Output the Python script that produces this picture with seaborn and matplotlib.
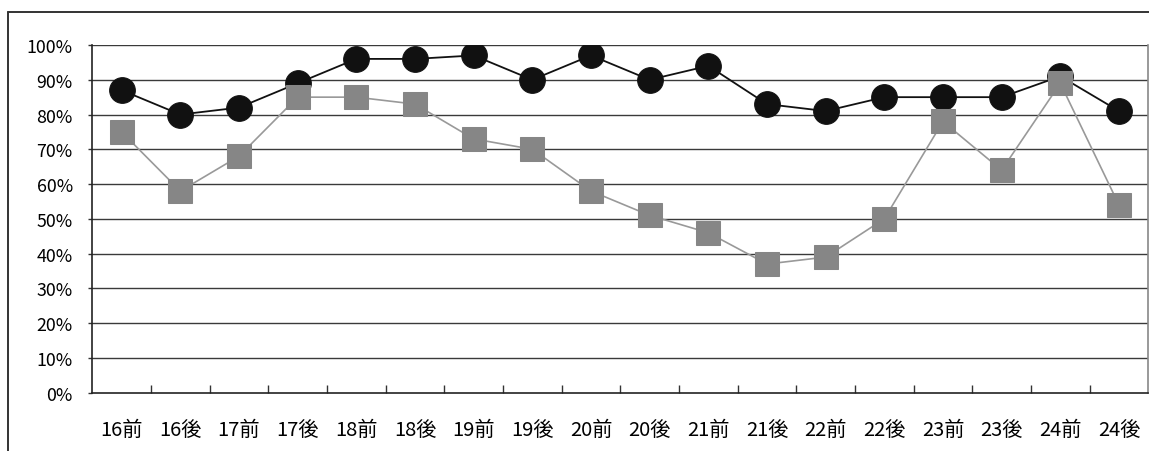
import matplotlib
matplotlib.use("Agg")
import matplotlib.pyplot as plt
from matplotlib.lines import Line2D
from matplotlib.ticker import FixedLocator, FuncFormatter
import seaborn as sns
import pandas as pd
import numpy as np

# Periods (year + first/second half)
periods = ["16前", "16後", "17前", "17後", "18前", "18後", "19前", "19後", "20前",
           "20後", "21前", "21後", "22前", "22後", "23前", "23後", "24前", "24後"]
# Rates in percent
series_black = [87, 80, 82, 89, 96, 96, 97, 90, 97, 90, 94, 83, 81, 85, 85, 85, 91, 81]
series_gray = [75, 58, 68, 85, 85, 83, 73, 70, 58, 51, 46, 37, 39, 50, 78, 64, 89, 54]
y_ticks = list(range(0, 101, 10))

df = pd.DataFrame({"period": periods, "black": series_black, "gray": series_gray})

sns.set_theme(style="white")
plt.rcParams["font.family"] = ["Noto Sans CJK JP", "DejaVu Sans"]

W, H = 1149, 452
fig = plt.figure(figsize=(W / 100, H / 100), dpi=100)
ax = fig.add_axes([92.3 / W, (H - 393.7) / H, 1056 / W, (393.7 - 46) / H])

sns.lineplot(data=df, x="period", y="black", ax=ax, sort=False, color="#111111",
             linewidth=1.3, marker="o", markersize=18.5, markeredgecolor="#111111", zorder=3)
sns.lineplot(data=df, x="period", y="gray", ax=ax, sort=False, color="#999999",
             linewidth=1.2, marker="s", markersize=17.8, markeredgecolor="#868686",
             markerfacecolor="#868686", zorder=4)

ax.set_xlim(-0.5, len(periods) - 0.5)
ax.set_ylim(0, 100)
ax.set_xlabel("")
ax.set_ylabel("")

# horizontal gridlines
ax.set_yticks(y_ticks)
ax.yaxis.set_major_formatter(FuncFormatter(lambda v, p: f"{int(v)}%"))
for v in y_ticks[1:]:
    ax.axhline(v, color="#3a3a3a", linewidth=1.0, zorder=1)

# category labels centred, tick marks between categories
ax.set_xticks(range(len(periods)))
ax.set_xticklabels(periods)
ax.xaxis.set_minor_locator(FixedLocator(np.arange(0.5, len(periods) - 1, 1.0)))
ax.tick_params(axis="x", which="major", length=0, pad=19, labelsize=14.5, labelcolor="#000000")
ax.tick_params(axis="x", which="minor", direction="in", length=5.5, width=1, color="#333333",
               bottom=True)
ax.tick_params(axis="y", which="major", direction="out", length=3, width=1, color="#333333",
               pad=11, labelsize=12.8, labelcolor="#000000", left=True)

for side in ["left", "bottom"]:
    ax.spines[side].set_color("#222222")
    ax.spines[side].set_linewidth(1.2)
ax.spines["right"].set_color("#888888")
ax.spines["right"].set_linewidth(1.2)
ax.spines["top"].set_visible(False)

# outer frame (top and left edges)
fx0 = 8 / W
fy0 = 1 - 13 / H
fig.add_artist(Line2D([fx0, 1148.5 / W], [fy0, fy0], color="#333333", linewidth=1.4,
                      transform=fig.transFigure))
fig.add_artist(Line2D([fx0, fx0], [0, fy0], color="#333333", linewidth=1.4,
                      transform=fig.transFigure))

fig.savefig("out.png", dpi=100, facecolor="white")
